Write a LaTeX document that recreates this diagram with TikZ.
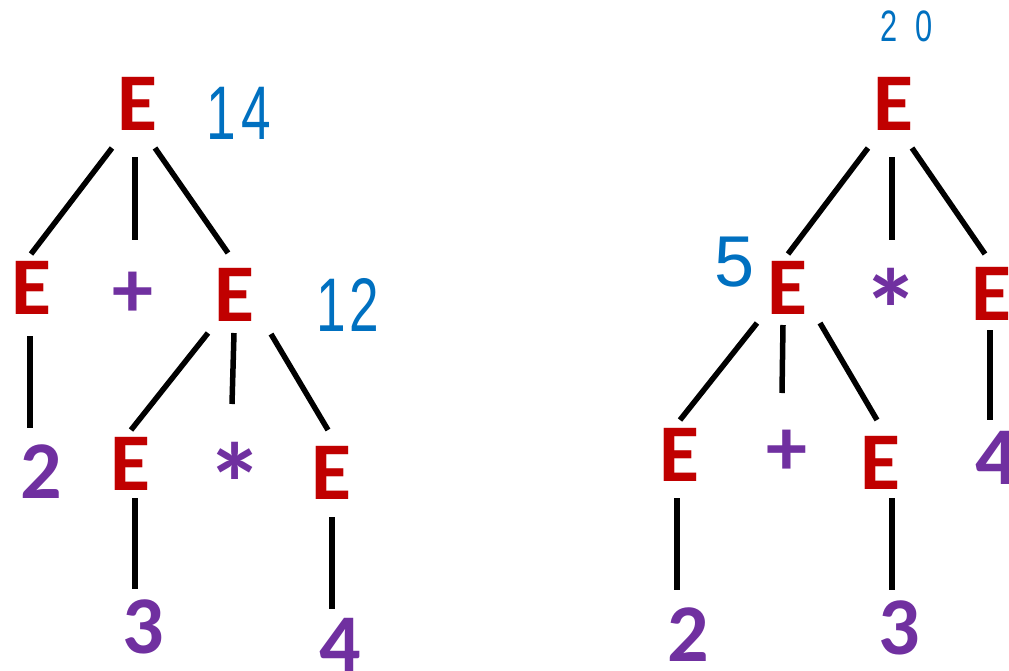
\documentclass[tikz,border=0pt]{standalone}
\usepackage{fontspec}
\setmainfont{Carlito}
\newfontfamily\hand[FakeStretch=0.7]{Liberation Sans}
\newfontfamily\handw{Liberation Sans}
\usetikzlibrary{calc}
\definecolor{ered}{HTML}{C00000}
\definecolor{tpur}{HTML}{7030A0}
\definecolor{hblue}{HTML}{0070C0}
\begin{document}
\begin{tikzpicture}[x=1pt,y=-1pt,
  nt/.style={inner sep=0pt, text=ered, font=\bfseries\fontsize{82}{82}\selectfont},
  tt/.style={inner sep=0pt, text=tpur, font=\bfseries\fontsize{82}{82}\selectfont},
  st/.style={inner sep=0pt, text=tpur, font=\bfseries\fontsize{115}{115}\selectfont},
  hw/.style={inner sep=0pt, text=hblue, font=\hand\fontsize{76}{76}\selectfont},
  edge/.style={line width=5.5pt, black}]
\useasboundingbox (0,0) rectangle (1009,670);
% left tree
\node[nt] (L0) at (137,104) {E};
\node[nt] (L1) at (31,288) {E};
\node[tt] (Lp) at (133,295) {+};
\node[nt] (L2) at (234,295) {E};
\node[tt] (L2n) at (41,472) {2};
\node[nt] (L3) at (130,464) {E};
\node[st] (Ls) at (235,483) {*};
\node[nt] (L4) at (331,473) {E};
\node[tt] (L3n) at (143,627) {3};
\node[tt] (L4n) at (340,645) {4};
\draw[edge] ($(L0)+(-25,44)$) -- ($(L1)+(0,-34)$);
\draw[edge] ($(L0)+(-2,53)$) -- ($(Lp)+(2,-55)$);
\draw[edge] ($(L0)+(18,44)$) -- ($(L2)+(-6,-42)$);
\draw[edge] ($(L1)+(-1,48)$) -- ($(L2n)+(-11,-44)$);
\draw[edge] ($(L2)+(-26,38)$) -- ($(L3)+(1,-34)$);
\draw[edge] ($(L2)+(0,38)$) -- ($(Ls)+(-3,-79)$);
\draw[edge] ($(L2)+(37,39)$) -- ($(L4)+(-3,-43)$);
\draw[edge] ($(L3)+(5,34)$) -- ($(L3n)+(-8,-38)$);
\draw[edge] ($(L4)+(1,44)$) -- ($(L4n)+(-8,-36)$);
% right tree
\node[nt] (R0) at (893,104) {E};
\node[nt] (R1) at (787,288) {E};
\node[st] (Rs) at (891,309) {*};
\node[nt] (R2) at (991,294) {E};
\node[nt] (R3) at (679,455) {E};
\node[tt] (Rp) at (787,453) {+};
\node[nt] (R4) at (880,463) {E};
\node[tt] (R2n) at (996,458) {4};
\node[tt] (R3n) at (688,635) {2};
\node[tt] (R4n) at (899,628) {3};
\draw[edge] ($(R0)+(-25,44)$) -- ($(R1)+(1,-34)$);
\draw[edge] ($(R0)+(-1,53)$) -- ($(Rs)+(1,-69)$);
\draw[edge] ($(R0)+(19,44)$) -- ($(R2)+(-6,-40)$);
\draw[edge] ($(R1)+(-30,35)$) -- ($(R3)+(1,-35)$);
\draw[edge] ($(R1)+(-4,37)$) -- ($(Rp)+(-5,-60)$);
\draw[edge] ($(R1)+(33,35)$) -- ($(R4)+(-3,-43)$);
\draw[edge] ($(R2)+(-1,36)$) -- ($(R2n)+(-6,-38)$);
\draw[edge] ($(R3)+(-2,43)$) -- ($(R3n)+(-11,-45)$);
\draw[edge] ($(R4)+(12,35)$) -- ($(R4n)+(-7,-38)$);
% handwritten annotations
\node[hw] (h14) at (239,113) {1\hspace{6pt}4};
\node[hw] (h12) at (348,305) {1\hspace{4pt}2};
\node[hw, font=\hand\fontsize{44}{44}\selectfont] (h20) at (907,26) {2\hspace{18pt}0};
\node[hw, font=\handw\fontsize{72}{72}\selectfont] (h5) at (735,262) {5};
\end{tikzpicture}
\end{document}
